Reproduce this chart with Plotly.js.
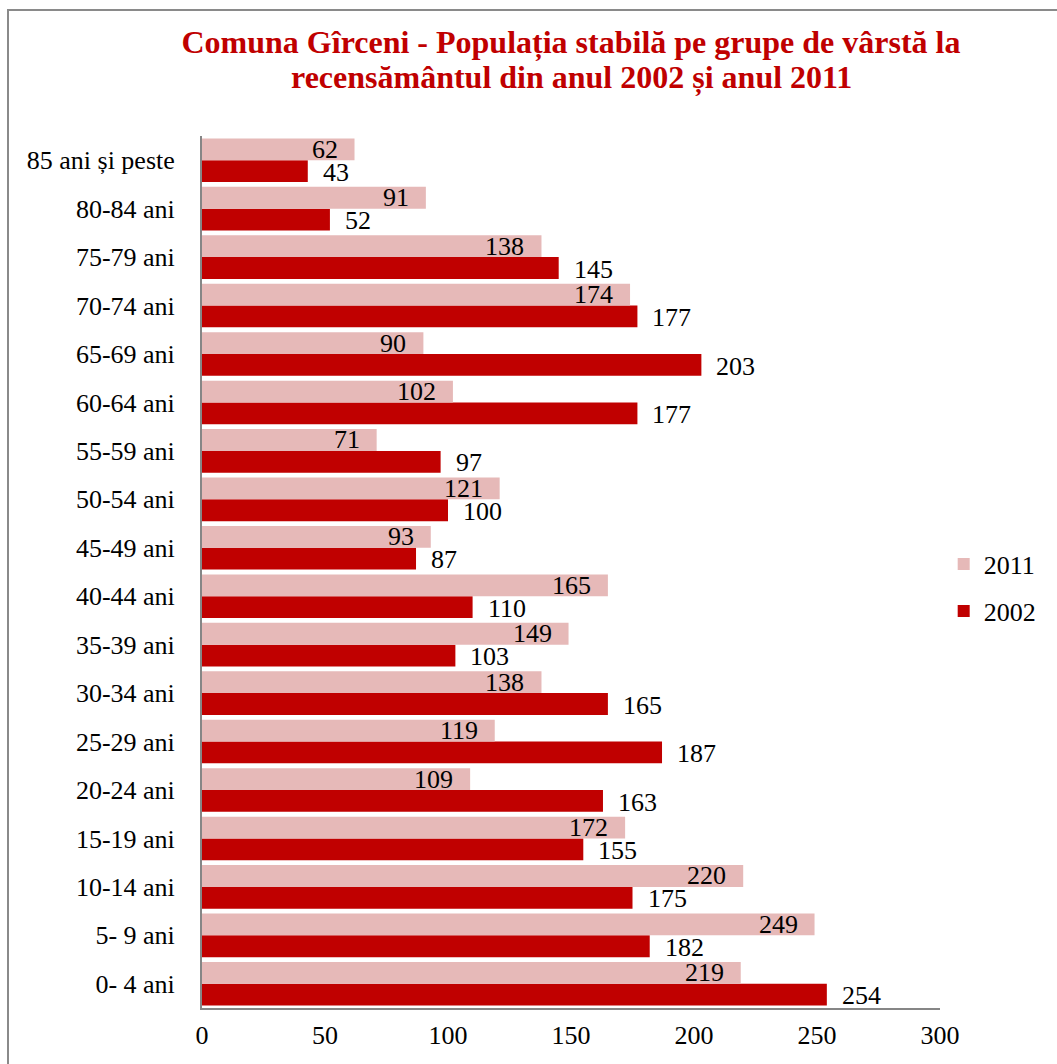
<!DOCTYPE html>
<html>
<head>
<meta charset="utf-8">
<script src="https://cdn.plot.ly/plotly-3.0.1.min.js"></script>
<style>
  html, body { margin: 0; padding: 0; background: #fff; overflow: hidden; }
  #wrap { position: relative; width: 1057px; height: 1064px; }
  #chart { width: 1057px; height: 1064px; }
  #frame { position: absolute; left: 7px; top: 9px; width: 1200px; height: 1200px;
           border: 2px solid #8a8a8a; pointer-events: none; box-sizing: border-box; }
</style>
</head>
<body>
<div id="wrap">
  <div id="chart"></div>
  <div id="frame"></div>
</div>
<script>
// Categories from bottom to top
const ageGroups = ["0- 4 ani", "5- 9 ani", "10-14 ani", "15-19 ani", "20-24 ani", "25-29 ani",
  "30-34 ani", "35-39 ani", "40-44 ani", "45-49 ani", "50-54 ani", "55-59 ani",
  "60-64 ani", "65-69 ani", "70-74 ani", "75-79 ani", "80-84 ani", "85 ani și peste"];
const pop2011 = [219, 249, 220, 172, 109, 119, 138, 149, 165, 93, 121, 71, 102, 90, 174, 138, 91, 62];
const pop2002 = [254, 182, 175, 155, 163, 187, 165, 103, 110, 87, 100, 97, 177, 203, 177, 145, 52, 43];
const xTicks = [0, 50, 100, 150, 200, 250, 300];
const titleLine1 = "Comuna Gîrceni - Populația stabilă pe grupe de vârstă la";
const titleLine2 = "recensământul din anul 2002 și anul 2011";

const FONT = "Liberation Serif, Times New Roman, serif";
const C2011 = "#E6B9B8";
const C2002 = "#C00000";

const traces = [
  { type: "bar", orientation: "h", name: "2002", y: ageGroups, x: pop2002,
    marker: { color: C2002 }, legendgroup: "g2002", legendrank: 2 },
  { type: "bar", orientation: "h", name: "2011", y: ageGroups, x: pop2011,
    marker: { color: C2011 }, legendgroup: "g2011", legendrank: 1 }
];

const annotations = [];
ageGroups.forEach((g, i) => {
  annotations.push({ x: pop2011[i], y: g, xref: "x", yref: "y", text: String(pop2011[i]),
    showarrow: false, xanchor: "right", yanchor: "middle", xshift: -15, yshift: 11,
    font: { family: FONT, size: 26, color: "#000" } });
  annotations.push({ x: pop2002[i], y: g, xref: "x", yref: "y", text: String(pop2002[i]),
    showarrow: false, xanchor: "left", yanchor: "middle", xshift: 13, yshift: -12,
    font: { family: FONT, size: 26, color: "#000" } });
});
// second title line
annotations.push({ x: 0.5, y: (1008 - 77) / 872, xref: "paper", yref: "paper",
  text: "<b>" + titleLine2 + "</b>", showarrow: false, xanchor: "center", yanchor: "middle",
  font: { family: FONT, size: 32, color: "#C00000" } });

const layout = {
  width: 1057, height: 1064,
  paper_bgcolor: "#fff", plot_bgcolor: "#fff",
  margin: { l: 202, r: 117, t: 136, b: 56, pad: 0 },
  font: { family: FONT, size: 26, color: "#000" },
  title: {
    text: "<b>" + titleLine1 + "</b>",
    font: { family: FONT, size: 32, color: "#C00000" },
    x: 0.5, xref: "paper", xanchor: "center",
    y: 1 - 42 / 1064, yref: "container", yanchor: "middle"
  },
  barmode: "group",
  bargap: 0.1,
  bargroupgap: 0,
  xaxis: {
    range: [0, 300], tickvals: xTicks, ticktext: xTicks.map(String),
    showgrid: false, zeroline: false, showline: true, linecolor: "#868686", linewidth: 2,
    ticks: "outside", ticklen: 3, tickcolor: "rgba(0,0,0,0)",
    tickfont: { family: FONT, size: 26, color: "#000" }
  },
  yaxis: {
    type: "category", range: [-0.5, 17.5],
    showgrid: false, zeroline: false, showline: true, linecolor: "#868686", linewidth: 2,
    ticks: "outside", ticklen: 20, tickcolor: "rgba(0,0,0,0)",
    tickfont: { family: FONT, size: 26, color: "#000" }
  },
  legend: {
    x: 1.005, xanchor: "left", y: 0.482, yanchor: "middle",
    traceorder: "grouped", tracegroupgap: 10,
    font: { family: FONT, size: 26, color: "#000" },
    bgcolor: "rgba(0,0,0,0)"
  },
  annotations: annotations,
  showlegend: true,
  hovermode: false
};

Plotly.newPlot("chart", traces, layout, { displayModeBar: false, staticPlot: true });
</script>
</body>
</html>
